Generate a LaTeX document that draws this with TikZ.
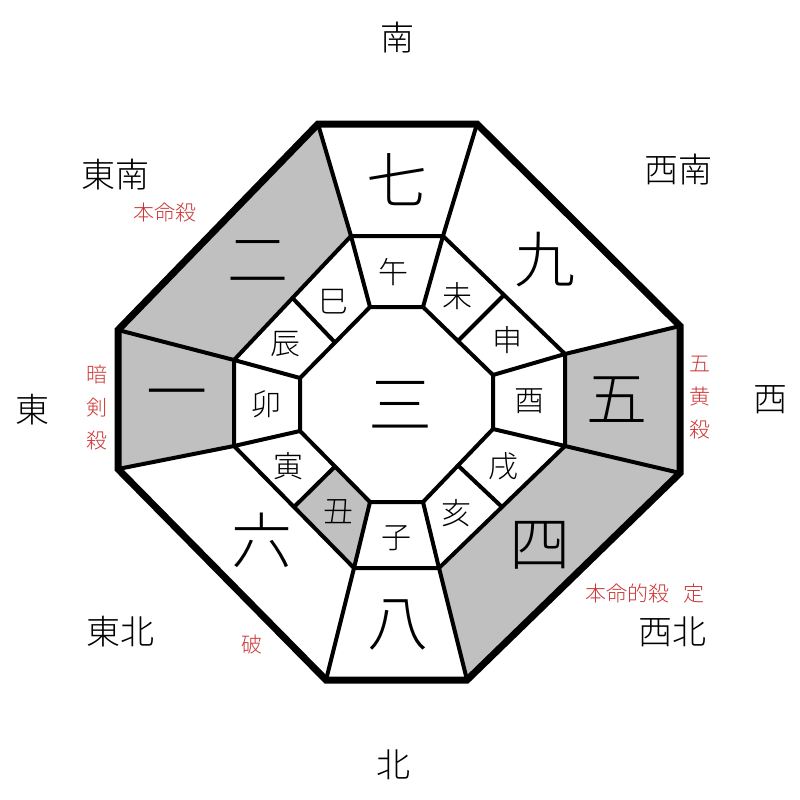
\documentclass[tikz,border=0pt]{standalone}
\usepackage{fontspec}
\usetikzlibrary{calc}
\newfontfamily\jp{Noto Sans CJK JP}[UprightFont={* Light}]
\definecolor{shadegray}{RGB}{192,192,192}
\definecolor{redtxt}{RGB}{205,55,55}
\begin{document}
\begin{tikzpicture}[x=1pt,y=-1pt,
  outerline/.style={line width=7pt,line join=miter},
  innerline/.style={line width=4pt,line join=miter},
  shadefill/.style={fill=shadegray,draw=none},
  big/.style={font=\jp\fontsize{61}{61}\selectfont},
  center/.style={font=\jp\fontsize{64}{64}\selectfont},
  branch/.style={font=\jp\fontsize{30}{30}\selectfont},
  dir/.style={font=\jp\fontsize{34}{34}\selectfont},
  note/.style={font=\jp\fontsize{21}{33}\selectfont,text=redtxt,align=center},
  every node/.style={inner sep=0pt}]
\useasboundingbox[fill=white] (0,0) rectangle (800,800);
% outer octagon
\coordinate (O1) at (318,124); \coordinate (O2) at (477,124);
\coordinate (O3) at (680,326); \coordinate (O4) at (680,473);
\coordinate (O5) at (467,680); \coordinate (O6) at (326,680);
\coordinate (O7) at (118,469); \coordinate (O8) at (118,330);
% middle octagon
\coordinate (M1) at (351,236); \coordinate (M2) at (443,236);
\coordinate (M3) at (565,354); \coordinate (M4) at (565,446);
\coordinate (M5) at (439,568); \coordinate (M6) at (354,568);
\coordinate (M7) at (234,446); \coordinate (M8) at (234,360);
% inner octagon
\coordinate (I1) at (370,307); \coordinate (I2) at (423,307);
\coordinate (I3) at (493,375); \coordinate (I4) at (493,429);
\coordinate (I5) at (423,502); \coordinate (I6) at (370,502);
\coordinate (I7) at (300,431); \coordinate (I8) at (300,378);
% branch dividers
\coordinate (D1) at ($(M2)!0.5!(M3)$); \coordinate (E1) at ($(I2)!0.5!(I3)$);
\coordinate (D2) at ($(M4)!0.5!(M5)$); \coordinate (E2) at ($(I4)!0.5!(I5)$);
\coordinate (D3) at ($(M6)!0.5!(M7)$); \coordinate (E3) at ($(I6)!0.5!(I7)$);
\coordinate (D4) at ($(M8)!0.5!(M1)$); \coordinate (E4) at ($(I8)!0.5!(I1)$);
% shaded regions
\fill[shadefill] (O8) -- (O1) -- (M1) -- (M8) -- cycle;
\fill[shadefill] (O8) -- (O7) -- (M7) -- (M8) -- cycle;
\fill[shadefill] (O3) -- (O4) -- (M4) -- (M3) -- cycle;
\fill[shadefill] (O4) -- (O5) -- (M5) -- (M4) -- cycle;
\fill[shadefill] (M6) -- (D3) -- (E3) -- (I6) -- cycle;
% lines
\draw[innerline] (M1) -- (M2) -- (M3) -- (M4) -- (M5) -- (M6) -- (M7) -- (M8) -- cycle;
\draw[innerline] (I1) -- (I2) -- (I3) -- (I4) -- (I5) -- (I6) -- (I7) -- (I8) -- cycle;
\foreach \k in {1,...,8}{
  \draw[innerline] (O\k) -- (M\k);
  \draw[innerline] (M\k) -- (I\k);
}
\foreach \k in {1,...,4}{
  \draw[innerline] (D\k) -- (E\k);
}
\draw[outerline] (O1) -- (O2) -- (O3) -- (O4) -- (O5) -- (O6) -- (O7) -- (O8) -- cycle;
% big numbers
\node[big] (n7) at (397,180) {七};
\node[big] (n9) at (545,260) {九};
\node[big] (n5) at (617,400) {五};
\node[big] (n4) at (540,545) {四};
\node[big] (n8) at (398,625) {八};
\node[big] (n6) at (262,540) {六};
\node[big] (n1) at (177,402) {一};
\node[big] (n2) at (258,262) {二};
\node[center] (n3) at (400,405) {三};
% branches
\node[branch] (bwu) at (393,272) {午};
\node[branch] (bwei) at (457,296) {未};
\node[branch] (bshen) at (507,340) {申};
\node[branch] (byou) at (529,401) {酉};
\node[branch] (bxu) at (503,466) {戌};
\node[branch] (bhai) at (456,513) {亥};
\node[branch] (bzi) at (396,538) {子};
\node[branch] (bchou) at (338,512) {丑};
\node[branch] (byin) at (288,466) {寅};
\node[branch] (bmao) at (266,404) {卯};
\node[branch] (bchen) at (285,344) {辰};
\node[branch] (bsi) at (333,302) {巳};
% directions
\node[dir] (ds) at (397,38) {南};
\node[dir] (dse) at (115,175) {東南};
\node[dir] (dsw) at (678,170) {西南};
\node[dir] (de) at (32,410) {東};
\node[dir] (dw) at (770,400) {西};
\node[dir] (dne) at (120,632) {東北};
\node[dir] (dnw) at (672,632) {西北};
\node[dir] (dn) at (393,765) {北};
% red notes
\node[note] (r1) at (165,212) {本命殺};
\node[note] (r2) at (97,408) {暗\\剣\\殺};
\node[note] (r3) at (700,398) {五\\黄\\殺};
\node[note] (r4) at (645,593) {本命的殺\hspace{14pt}定};
\node[note] (r5) at (252,645) {破};
\end{tikzpicture}
\end{document}
